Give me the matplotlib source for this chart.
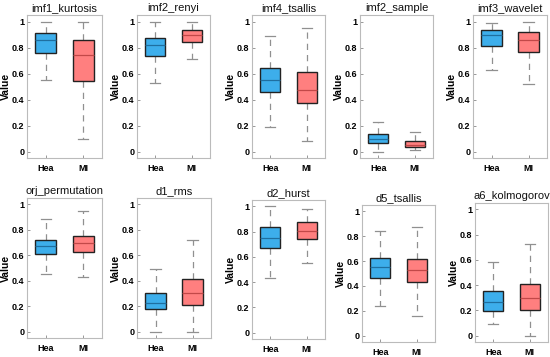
import matplotlib.pyplot as plt
import numpy as np

plt.rcParams['font.family'] = ['Liberation Sans Narrow', 'Liberation Sans', 'DejaVu Sans']

# box stats per feature: [whislo, q1, med, q3, whishi] for Hea and MI
titles = ['imf1_kurtosis', 'imf2_renyi', 'imf4_tsallis', 'imf2_sample', 'imf3_wavelet',
          'orj_permutation', 'd1_rms', 'd2_hurst', 'd5_tsallis', 'a6_kolmogorov']
hea = [[0.55, 0.76, 0.855, 0.91, 1.0],
       [0.53, 0.735, 0.82, 0.875, 1.0],
       [0.19, 0.458, 0.55, 0.643, 0.887],
       [0.0, 0.064, 0.10, 0.131, 0.224],
       [0.63, 0.812, 0.895, 0.933, 0.985],
       [0.455, 0.61, 0.673, 0.717, 0.885],
       [0.0, 0.175, 0.228, 0.304, 0.489],
       [0.435, 0.674, 0.753, 0.833, 1.0],
       [0.238, 0.466, 0.55, 0.624, 0.841],
       [0.09, 0.199, 0.268, 0.35, 0.581]]
mi = [[0.10, 0.545, 0.74, 0.855, 0.995],
      [0.715, 0.845, 0.895, 0.935, 0.995],
      [0.077, 0.373, 0.476, 0.609, 0.951],
      [0.008, 0.033, 0.051, 0.08, 0.147],
      [0.519, 0.763, 0.86, 0.92, 1.0],
      [0.432, 0.623, 0.694, 0.754, 0.948],
      [0.0, 0.209, 0.302, 0.41, 0.717],
      [0.549, 0.743, 0.806, 0.873, 0.981],
      [0.159, 0.434, 0.532, 0.619, 0.876],
      [0.0, 0.204, 0.302, 0.408, 0.722]]
groups = ['Hea', 'MI']
yticks = [0, 0.2, 0.4, 0.6, 0.8, 1]

# axes boxes in pixels: left, right, top, bottom
W, H = 550, 357
boxes_px = [(27, 102, 15, 158), (137, 210, 15, 158), (252, 325, 15, 158),
            (360, 433, 15, 158), (473, 547, 15, 158),
            (27, 102, 198, 338), (137, 211, 198, 338), (252, 325, 200, 339),
            (362, 435, 205, 342), (475, 548, 203, 342)]

face = ['#3DAEEB', '#FF7F7F']
med_col = ['#1F6FA0', '#C24848']

fig = plt.figure(figsize=(W / 100, H / 100), dpi=100)
for i, t in enumerate(titles):
    l, r, tp, b = boxes_px[i]
    ax = fig.add_axes([l / W, 1 - b / H, (r - l) / W, (b - tp) / H])
    stats = []
    for g, s in zip(groups, [hea[i], mi[i]]):
        stats.append(dict(label=g, whislo=s[0], q1=s[1], med=s[2], q3=s[3], whishi=s[4]))
    bp = ax.bxp(stats, positions=[1, 2], widths=0.55, showfliers=False, patch_artist=True,
                boxprops=dict(edgecolor='#222222', linewidth=1.0),
                whiskerprops=dict(color='#909090', linestyle=(0, (5, 4)), linewidth=0.9),
                capprops=dict(color='#909090', linewidth=0.9),
                medianprops=dict(linewidth=0.9))
    for k, patch in enumerate(bp['boxes']):
        patch.set_facecolor(face[k])
        patch.set_zorder(3)
        bp['medians'][k].set_color(med_col[k])
        bp['medians'][k].set_zorder(4)
    # shorter caps like MATLAB
    for k, cap in enumerate(bp['caps']):
        x0 = 1 + k // 2
        cap.set_xdata([x0 - 0.14, x0 + 0.14])
    ax.set_xlim(0.5, 2.5)
    ax.set_ylim(-0.05, 1.05)
    ax.set_yticks(yticks)
    ax.set_yticklabels(['0', '0.2', '0.4', '0.6', '0.8', '1'])
    ax.set_title(t, fontsize=8, pad=3, color='#111111')
    ax.set_ylabel('Value', fontsize=7.5, fontweight='bold')
    ax.yaxis.set_label_coords(-0.22, 0.5)
    ax.tick_params(direction='in', length=2.5, width=0.6, color='#888888',
                   labelsize=6.5, pad=2, top=False, right=False)
    ax.tick_params(axis='x', pad=4)
    for lab in ax.get_xticklabels() + ax.get_yticklabels():
        lab.set_fontweight('bold')
    for sp in ax.spines.values():
        sp.set_color('#BBBBBB')
        sp.set_linewidth(0.8)

fig.savefig('out.png', dpi=100)
